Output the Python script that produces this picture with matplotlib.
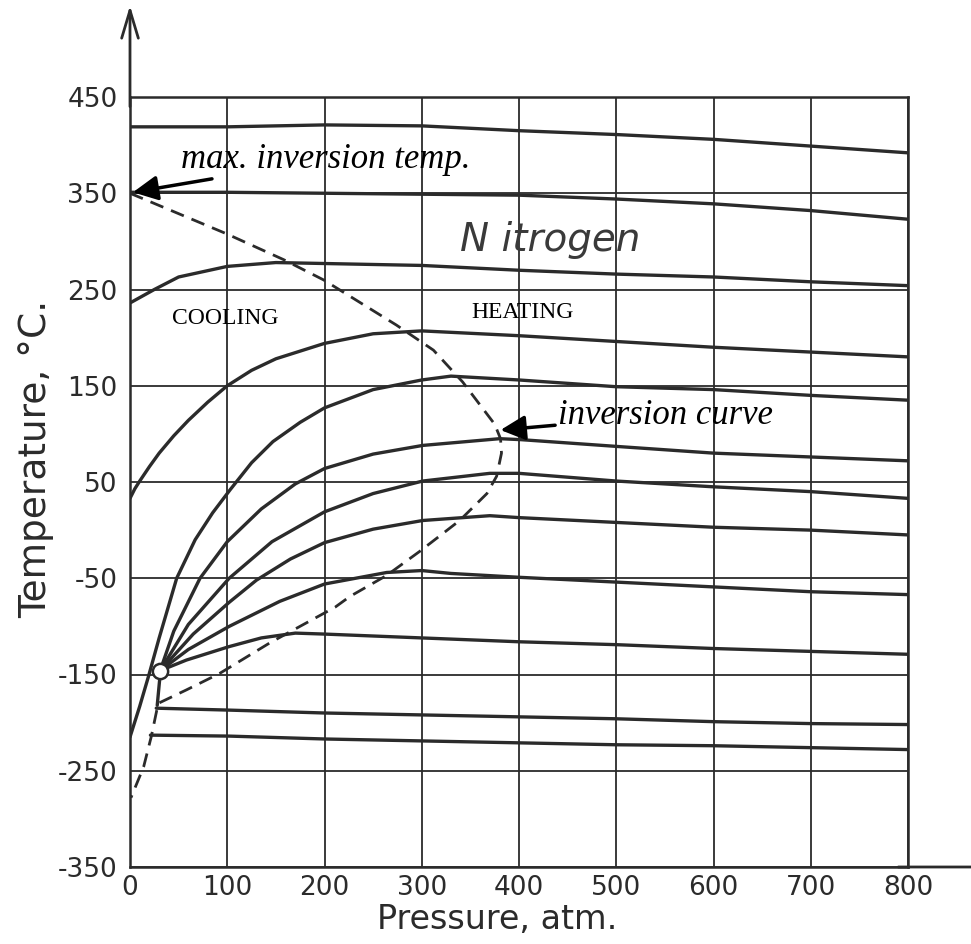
import matplotlib.pyplot as plt

# isenthalps of nitrogen (pressure atm, temperature C)
p_iso1 = [0, 100, 200, 300, 400, 500, 600, 700, 800]
t_iso1 = [419, 419, 421, 420, 415, 411, 406, 399, 392]

p_iso2 = [0, 100, 200, 300, 400, 500, 600, 700, 800]
t_iso2 = [351, 351, 350, 349, 348, 344, 339, 332, 323]

p_iso3 = [0, 25, 50, 100, 150, 200, 300, 400, 500, 600, 700, 800]
t_iso3 = [236, 250, 263, 274, 278, 277, 275, 270, 266, 263, 258, 254]

p_iso4 = [0, 5, 10, 20, 30, 45, 60, 80, 100, 125, 150, 200, 250, 300, 400, 500, 600, 700, 800]
t_iso4 = [33, 43, 51, 66, 80, 98, 114, 133, 150, 166, 178, 194, 204, 207, 202, 196, 190, 185, 180]

p_iso5 = [0, 10, 19, 30, 48, 67, 85, 103, 125, 147, 175, 200, 250, 300, 330, 400, 500, 600, 700, 800]
t_iso5 = [-215, -183, -152, -112, -50, -10, 18, 42, 70, 92, 112, 127, 146, 156, 160, 156, 149, 146, 140, 135]

p_iso6 = [31, 45, 72, 100, 135, 170, 200, 250, 301, 380, 402, 500, 600, 700, 800]
t_iso6 = [-146, -105, -50, -12, 22, 48, 64, 79, 88, 95, 94, 87, 80, 76, 72]

p_iso7 = [31, 60, 102, 146, 200, 250, 301, 370, 400, 500, 600, 700, 800]
t_iso7 = [-146, -98, -50, -12, 19, 38, 51, 59, 59, 51, 45, 40, 33]

p_iso8 = [31, 65, 102, 130, 165, 200, 250, 301, 370, 400, 500, 600, 700, 800]
t_iso8 = [-146, -108, -75, -52, -30, -13, 1, 10, 15, 13, 8, 3, 0, -5]

p_iso9 = [31, 60, 102, 154, 200, 264, 300, 330, 400, 500, 600, 700, 800]
t_iso9 = [-146, -124, -100, -74, -56, -44, -42, -45, -49, -54, -59, -64, -67]

p_iso10 = [31, 58, 102, 135, 170, 200, 300, 400, 500, 600, 700, 800]
t_iso10 = [-146, -135, -121, -112, -107, -108, -112, -116, -119, -123, -126, -129]

p_iso11 = [27, 102, 200, 300, 400, 500, 600, 700, 800]
t_iso11 = [-185, -187, -190, -192, -194, -196, -199, -201, -202]

p_iso12 = [21, 102, 200, 300, 400, 500, 600, 700, 800]
t_iso12 = [-213, -214, -217, -219, -221, -223, -224, -226, -228]

# short piece below the critical point
p_stub = [31, 28]
t_stub = [-150, -182]

# inversion curve (dashed)
p_inv = [0, 99, 158, 199, 274, 312, 342, 360, 375, 381, 382, 377, 367, 339,
         298, 264, 226, 211, 144, 92, 58, 29, 22, 14, 1]
t_inv = [350, 308, 281, 260, 213, 187, 154, 130, 110, 95, 80, 56, 38, 10,
         -22, -47, -69, -80, -117, -149, -166, -180, -214, -246, -278]

# critical point
crit_p = [31]
crit_t = [-146]

xticks = [0, 100, 200, 300, 400, 500, 600, 700, 800]
yticks = [-350, -250, -150, -50, 50, 150, 250, 350, 450]
ylabels = ['-350', '-250', '-150', '-50', '50', '150', '250', '350', '450']

ink = '#2b2b2b'

fig = plt.figure(figsize=(9.71, 9.44), dpi=100)
ax = fig.add_axes([130 / 971, 77 / 944, 778 / 971, 770 / 944])

ax.set_xlim(0, 800)
ax.set_ylim(-350, 450)
ax.set_xticks(xticks)
ax.set_yticks(yticks)
ax.set_yticklabels(ylabels)
ax.grid(True, color=ink, lw=1.3)
ax.set_axisbelow(True)
ax.tick_params(length=0, labelsize=19, colors=ink)
ax.tick_params(axis='y', pad=9)
ax.tick_params(axis='x', pad=6)
for s in ax.spines.values():
    s.set_color(ink)
    s.set_linewidth(1.8)

curves = [(p_iso1, t_iso1), (p_iso2, t_iso2), (p_iso3, t_iso3), (p_iso4, t_iso4),
          (p_iso5, t_iso5), (p_iso6, t_iso6), (p_iso7, t_iso7), (p_iso8, t_iso8),
          (p_iso9, t_iso9), (p_iso10, t_iso10), (p_iso11, t_iso11), (p_iso12, t_iso12),
          (p_stub, t_stub)]
for p, t in curves:
    ax.plot(p, t, color=ink, lw=2.4, solid_capstyle='round', solid_joinstyle='round')

ax.plot(p_inv, t_inv, color=ink, lw=2.0, linestyle=(0, (5, 3)))
ax.plot(crit_p, crit_t, 'o', ms=11, mfc='white', mec=ink, mew=1.8, zorder=5)

# axis arrows
ax.annotate('', xy=(0, 545), xytext=(0, 440), annotation_clip=False,
            arrowprops=dict(arrowstyle='->,head_length=2,head_width=0.6',
                            lw=2, color=ink, shrinkA=0, shrinkB=0))
ax.annotate('', xy=(880, -350), xytext=(790, -350), annotation_clip=False,
            arrowprops=dict(arrowstyle='-', lw=2, color=ink, shrinkA=0, shrinkB=0))

ax.set_ylabel('Temperature, °C.', fontsize=27, color=ink)
ax.yaxis.set_label_coords(-0.097, 0.53)
ax.set_xlabel('Pressure, atm.', fontsize=24, color=ink)
ax.xaxis.set_label_coords(0.472, -0.047)

serif = 'Liberation Serif'
ax.annotate('max. inversion temp.', xy=(3, 351), xytext=(52, 385),
            fontsize=25, style='italic', family=serif, va='center',
            arrowprops=dict(arrowstyle='-|>,head_length=0.6,head_width=0.3',
                            lw=2.5, color='black', shrinkA=0, shrinkB=0))
ax.annotate('inversion curve', xy=(381, 104), xytext=(440, 119),
            fontsize=25, style='italic', family=serif, va='center',
            arrowprops=dict(arrowstyle='-|>,head_length=0.6,head_width=0.3',
                            lw=2.5, color='black', shrinkA=0, shrinkB=0))
ax.text(98, 220, 'COOLING', fontsize=17, family=serif, ha='center', va='center')
ax.text(404, 226, 'HEATING', fontsize=17, family=serif, ha='center', va='center')
ax.text(339, 301, 'N itrogen', fontsize=28, style='italic', color='#3a3a3a',
        va='center')

fig.savefig('out.png', dpi=100, facecolor='white')
